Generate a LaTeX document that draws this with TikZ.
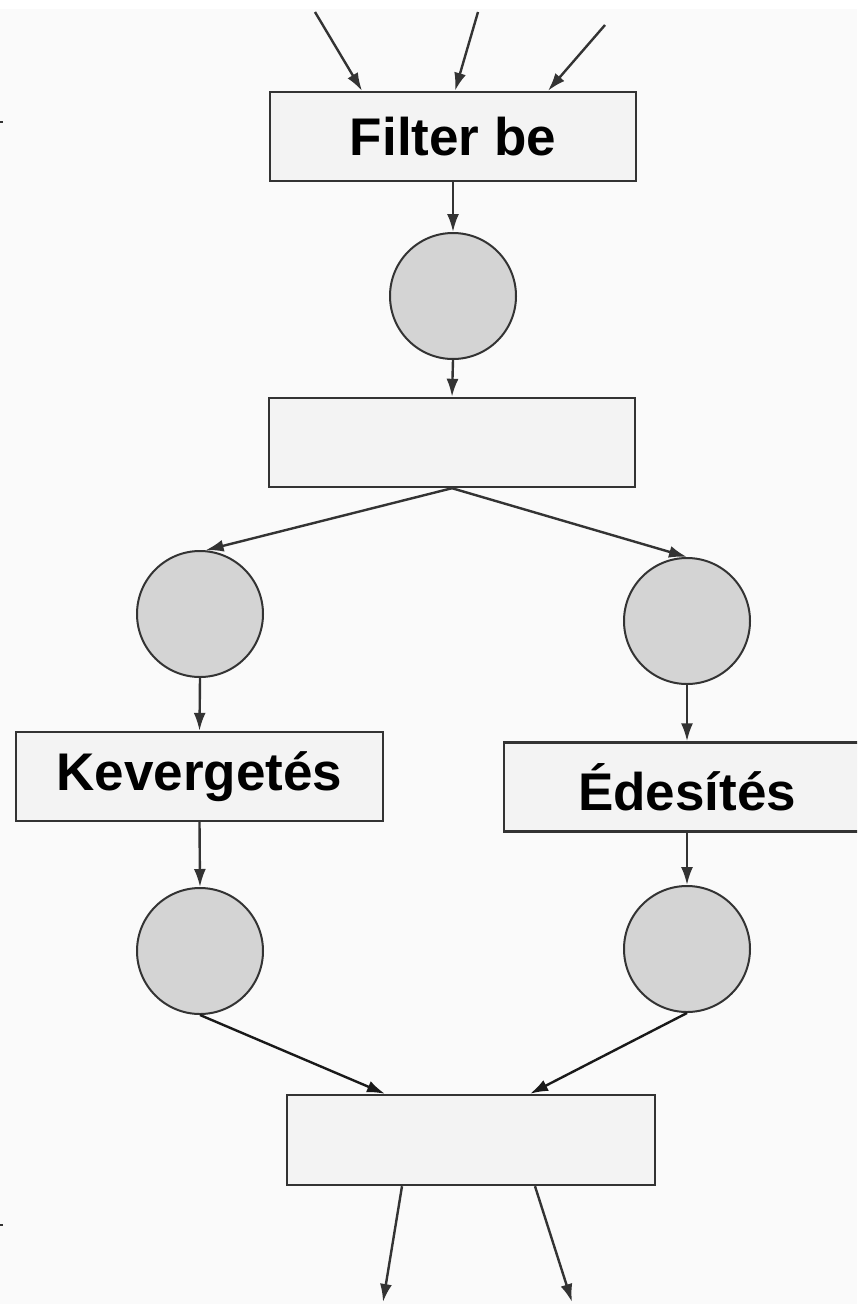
\documentclass[tikz,border=0pt]{standalone}
\usepackage{fontspec}
\setmainfont{Liberation Sans}
\usetikzlibrary{arrows.meta,calc}
\definecolor{pagebg}{HTML}{FAFAFA}
\definecolor{boxfill}{HTML}{F3F3F3}
\definecolor{placefill}{HTML}{D4D4D4}
\definecolor{edge}{HTML}{333333}
\tikzset{
  trans/.style={draw=edge, line width=2.4pt, fill=boxfill, rectangle,
    minimum width=366pt, minimum height=89pt, inner sep=0pt,
    font=\fontsize{53}{60}\selectfont\bfseries},
  place/.style={draw=edge, line width=2pt, fill=placefill, circle,
    minimum size=126pt, inner sep=0pt},
  flow/.style={draw=edge, line width=2.4pt,
    -{Latex[length=18pt,width=12pt]}},
}
\begin{document}
\begin{tikzpicture}[x=1pt,y=-1pt]
  % canvas
  \useasboundingbox (0,0) rectangle (857,1304);
  \clip (0,0) rectangle (857,1304);
  \fill[pagebg] (0,0) rectangle (857,1304);
  \fill[white] (0,0) rectangle (857,9);
  \draw[edge, line width=2.4pt] (0,122) -- (3,122);
  \draw[edge, line width=2.4pt] (0,1225) -- (3,1225);

  % transitions and places
  \node[trans] (t1) at (453,136.5) {Filter be};
  \node[place] (p1) at (453,296) {};
  \node[trans] (t2) at (452,442.5) {};
  \node[place] (p2) at (200,614) {};
  \node[place] (p3) at (687,621) {};
  \node[trans, minimum width=367pt] (t3) at (199.5,776.5) {Kevergetés};
  \node[trans] (t4) at (687,787) {Édesítés};
  \node[place] (p4) at (200,951) {};
  \node[place] (p5) at (687,949) {};
  \node[trans, minimum width=368pt, minimum height=90pt] (t5) at (471,1140) {};

  % free ends
  \coordinate (in1) at (315,12);
  \coordinate (in2) at (478,12);
  \coordinate (in3) at (605,25);
  \coordinate (out1) at (383,1302);
  \coordinate (out2) at (572,1302);

  % arcs
  \draw[flow] (in1) -- ([xshift=-91pt]t1.north);
  \draw[flow] (in2) -- ([xshift=2pt]t1.north);
  \draw[flow] (in3) -- ([xshift=95pt]t1.north);
  \draw[flow] (t1.south) -- (p1.north);
  \draw[flow] (p1.south) -- (t2.north);
  \draw[flow] (t2.south) -- (p2.85);
  \draw[flow] (t2.south) -- (p3.north);
  \draw[flow] (p2.south) -- (t3.north);
  \draw[flow] (p3.south) -- (t4.north);
  \draw[flow] (t3.south) -- (p4.north);
  \draw[flow] (t4.south) -- (p5.north);
  \draw[flow, draw=black!90] (p4.south) -- ([xshift=-86pt]t5.north);
  \draw[flow, draw=black!90] (p5.south) -- ([xshift=59pt]t5.north);
  \draw[flow] ([xshift=-69pt]t5.south) -- (out1);
  \draw[flow] ([xshift=64pt]t5.south) -- (out2);
\end{tikzpicture}
\end{document}
